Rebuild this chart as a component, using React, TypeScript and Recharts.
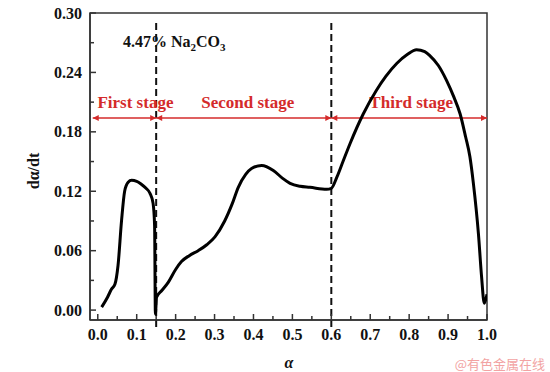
import React from 'react';
import { LineChart, Line, XAxis, YAxis, ReferenceLine, ReferenceArea } from 'recharts';

// conversion fraction alpha and rate d(alpha)/dt
const alpha = [
  0.01, 0.025, 0.035, 0.044, 0.052, 0.061, 0.069, 0.078, 0.087, 0.1,
  0.112, 0.124, 0.134, 0.142, 0.146, 0.148, 0.151, 0.165, 0.181, 0.2,
  0.215, 0.235, 0.258, 0.28, 0.301, 0.326, 0.345, 0.361, 0.38, 0.395,
  0.421, 0.451, 0.475, 0.494, 0.52, 0.545, 0.588, 0.6, 0.614, 0.63,
  0.648, 0.682, 0.716, 0.74, 0.768, 0.795, 0.819, 0.84, 0.853, 0.875,
  0.896, 0.915, 0.931, 0.945, 0.956, 0.965, 0.978, 0.986, 0.993, 1.0,
];
const rate = [
  0.003, 0.013, 0.021, 0.026, 0.045, 0.09, 0.12, 0.129, 0.131, 0.13,
  0.127, 0.123, 0.118, 0.108, 0.085, -0.004, 0.013, 0.02, 0.028, 0.041,
  0.049, 0.055, 0.06, 0.066, 0.074, 0.09, 0.107, 0.124, 0.137, 0.143,
  0.146, 0.141, 0.133, 0.128, 0.125, 0.124, 0.122, 0.123, 0.134, 0.15,
  0.168, 0.198, 0.222, 0.236, 0.249, 0.258, 0.263, 0.261, 0.257, 0.247,
  0.232, 0.215, 0.198, 0.175, 0.155, 0.128, 0.077, 0.034, 0.007, 0.016,
];

const xTicks = [0, 0.05, 0.1, 0.15, 0.2, 0.25, 0.3, 0.35, 0.4, 0.45, 0.5, 0.55, 0.6, 0.65, 0.7, 0.75, 0.8, 0.85, 0.9, 0.95, 1.0];
const yTicks = [0, 0.03, 0.06, 0.09, 0.12, 0.15, 0.18, 0.21, 0.24, 0.27, 0.3];

const stageBounds = [-0.013, 0.15, 0.6, 1.0];
const stageNames = ['First stage', 'Second stage', 'Third stage'];
const stageArrowLevel = 0.194;
const stageDividers = [0.15, 0.6];

const data = alpha.map((a, i) => ({ alpha: a, rate: rate[i] }));

const FONT = '"Liberation Serif", "Times New Roman", serif';
const AXIS = '#333';
const RED = '#d42b2b';

const XTick = (props: any) => {
  const { x, y, payload } = props;
  const v = payload.value;
  const major = Math.round(v * 100) % 10 === 0;
  return (
    <g>
      <line x1={x} x2={x} y1={y} y2={y - (major ? 6 : 4)} stroke={AXIS} strokeWidth={1.5} />
      {major && (
        <text x={x} y={y + 20} textAnchor="middle" fontFamily={FONT} fontWeight="bold" fontSize={16} fill="#111">
          {v.toFixed(1)}
        </text>
      )}
    </g>
  );
};

const YTick = (props: any) => {
  const { x, y, payload } = props;
  const v = payload.value;
  const major = Math.round(v * 100) % 6 === 0;
  return (
    <g>
      <line x1={x} x2={x + (major ? 6 : 4)} y1={y} y2={y} stroke={AXIS} strokeWidth={1.5} />
      {major && (
        <text x={x - 8} y={y} dy="0.35em" textAnchor="end" fontFamily={FONT} fontWeight="bold" fontSize={16} fill="#111">
          {v.toFixed(2)}
        </text>
      )}
    </g>
  );
};

const stageArrow = (name: string, dxText: number) => (props: any) => {
  const { x1, y1, x2 } = props;
  const h = 6;
  const w = 3;
  return (
    <g>
      <line x1={x1} y1={y1} x2={x2} y2={y1} stroke={RED} strokeWidth={1.5} />
      <polygon points={`${x1},${y1} ${x1 + h},${y1 - w} ${x1 + h},${y1 + w}`} fill={RED} />
      <polygon points={`${x2},${y1} ${x2 - h},${y1 - w} ${x2 - h},${y1 + w}`} fill={RED} />
      <text
        x={(x1 + x2) / 2 + dxText}
        y={y1 - 10}
        textAnchor="middle"
        fontFamily={FONT}
        fontWeight="bold"
        fontSize={17}
        fill={RED}
      >
        {name}
      </text>
    </g>
  );
};

const textDx = [11, 4, 2];

export default function App() {
  return (
    <div style={{ position: 'absolute', left: 0, top: 0, width: 550, height: 372, background: '#fff' }}>
      <LineChart width={550} height={372} data={data} margin={{ top: 13, right: 63, bottom: 22, left: 30 }}>
        <XAxis
          dataKey="alpha"
          type="number"
          domain={[-0.02, 1.0]}
          allowDataOverflow
          ticks={xTicks}
          interval={0}
          tick={<XTick />}
          tickSize={0}
          tickMargin={0}
          tickLine={false}
          axisLine={{ stroke: AXIS, strokeWidth: 1.5 }}
          height={30}
        />
        <YAxis
          type="number"
          domain={[-0.01, 0.3]}
          allowDataOverflow
          ticks={yTicks}
          interval={0}
          tick={<YTick />}
          tickSize={0}
          tickMargin={0}
          tickLine={false}
          axisLine={{ stroke: AXIS, strokeWidth: 1.5 }}
          width={60}
        />
        <ReferenceArea x1={-0.02} x2={1.0} y1={-0.01} y2={0.3} fill="none" stroke={AXIS} strokeWidth={1.5} ifOverflow="visible" />
        {stageDividers.map((d) => (
          <ReferenceLine
            key={d}
            segment={[{ x: d, y: -0.017 }, { x: d, y: 0.294 }]}
            stroke="#111"
            strokeWidth={2}
            strokeDasharray="7 4"
            ifOverflow="visible"
          />
        ))}
        {stageNames.map((n, i) => (
          <ReferenceLine
            key={n}
            segment={[{ x: stageBounds[i], y: stageArrowLevel }, { x: stageBounds[i + 1], y: stageArrowLevel }]}
            shape={stageArrow(n, textDx[i])}
            ifOverflow="visible"
          />
        ))}
        <Line
          type="monotone"
          dataKey="rate"
          stroke="#000"
          strokeWidth={3}
          dot={false}
          isAnimationActive={false}
        />
        <text x={123} y={47} fontFamily={FONT} fontWeight="bold" fontSize={16} fill="#111">
          4.47% Na
          <tspan fontSize={11} dy={4}>2</tspan>
          <tspan dy={-4}>CO</tspan>
          <tspan fontSize={11} dy={4}>3</tspan>
        </text>
        <text
          transform="translate(33,171) rotate(-90)"
          textAnchor="middle"
          dominantBaseline="central"
          fontFamily={FONT}
          fontWeight="bold"
          fontSize={16}
          fill="#111"
        >
          dα/dt
        </text>
        <text x={289} y={368} textAnchor="middle" fontFamily={FONT} fontWeight="bold" fontStyle="italic" fontSize={16} fill="#111">
          α
        </text>
        <text x={545} y={369} textAnchor="end" fontFamily='"Noto Sans CJK SC", sans-serif' fontSize={13} fill="#f2a3a3">
          @有色金属在线
        </text>
      </LineChart>
    </div>
  );
}
